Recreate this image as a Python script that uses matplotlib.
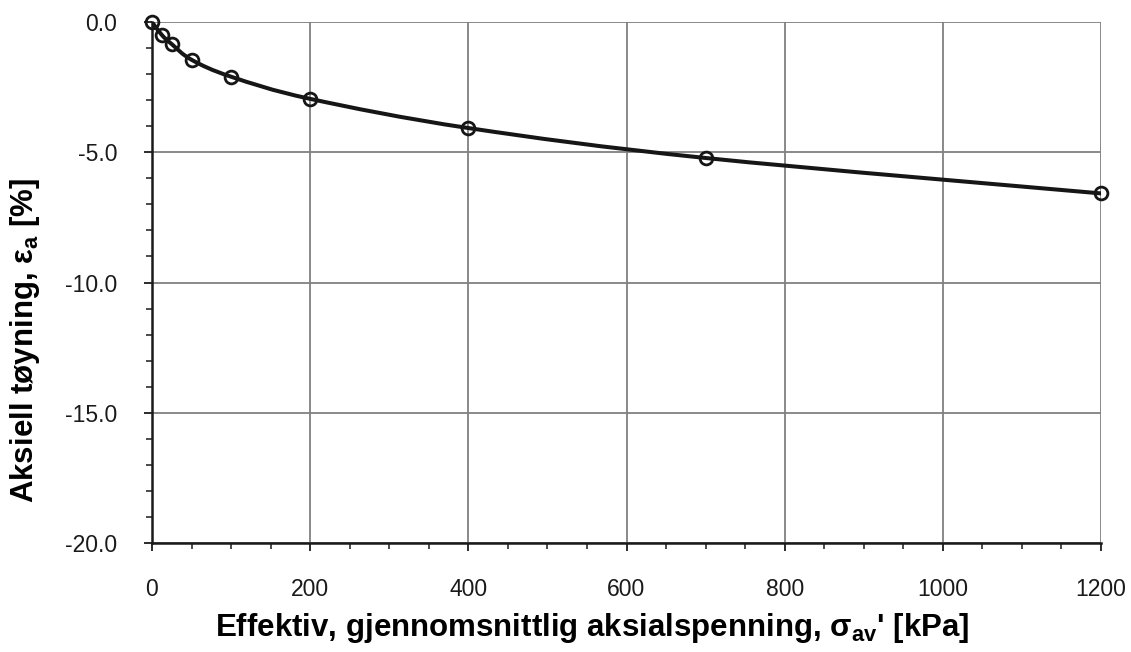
import numpy as np
import matplotlib.pyplot as plt
from matplotlib.path import Path
from matplotlib.patches import PathPatch
from matplotlib.ticker import MultipleLocator, FormatStrFormatter

plt.rcParams['font.family'] = ['Liberation Sans', 'DejaVu Sans']
plt.rcParams['mathtext.fontset'] = 'custom'
plt.rcParams['mathtext.rm'] = 'Liberation Sans'
plt.rcParams['mathtext.bf'] = 'Liberation Sans:bold'

# målte punkter: spenning [kPa] og aksiell tøyning [%]
spenning = [0, 12.5, 25, 50, 100, 200, 400, 700, 1200]
toyning = [0.0, -0.5, -0.85, -1.45, -2.1, -2.95, -4.07, -5.22, -6.58]

x_ticks = [0, 200, 400, 600, 800, 1000, 1200]
y_ticks = [0.0, -5.0, -10.0, -15.0, -20.0]


def glatt_kurve(ax, xs, ys, **kw):
    # glattet linje (bezier gjennom punktene, som i Excel)
    pts = ax.transData.transform(np.column_stack([xs, ys]))
    verts = [pts[0]]
    codes = [Path.MOVETO]
    n = len(pts)
    for i in range(n - 1):
        p0 = pts[i - 1] if i > 0 else pts[i]
        p1 = pts[i]
        p2 = pts[i + 1]
        p3 = pts[i + 2] if i + 2 < n else pts[i + 1]
        c1 = p1 + (p2 - p0) / 6.0
        c2 = p2 - (p3 - p1) / 6.0
        verts += [c1, c2, p2]
        codes += [Path.CURVE4] * 3
    patch = PathPatch(Path(verts, codes), fill=False, transform=None, **kw)
    ax.add_artist(patch)


fig = plt.figure(figsize=(11.31, 6.52), dpi=100)
ax = fig.add_axes([152 / 1131, 1 - 543 / 652, 949 / 1131, 521 / 652])

ax.set_xlim(0, 1200)
ax.set_ylim(-20, 0)
ax.set_xticks(x_ticks)
ax.set_yticks(y_ticks)
ax.xaxis.set_minor_locator(MultipleLocator(50))
ax.yaxis.set_minor_locator(MultipleLocator(1))
ax.yaxis.set_major_formatter(FormatStrFormatter('%.1f'))

ax.grid(True, which='major', color='#808080', linewidth=1.3)
ax.set_axisbelow(True)
for s in ['top', 'right']:
    ax.spines[s].set_visible(False)
for s in ['left', 'bottom']:
    ax.spines[s].set_linewidth(1.8)
    ax.spines[s].set_color('#1a1a1a')
ax.tick_params(which='major', length=6, width=1.3, labelsize=16.5, colors='#1a1a1a')
ax.tick_params(which='minor', length=4, width=1.1, colors='#1a1a1a')
ax.tick_params(axis='x', which='major', pad=19)
ax.tick_params(axis='y', which='major', pad=19)

ax.set_xlabel(r"Effektiv, gjennomsnittlig aksialspenning, $\mathbf{\sigma_{av}}$' [kPa]",
              fontsize=22.5, fontweight='bold')
ax.set_ylabel(r"Aksiell tøyning, $\mathbf{\varepsilon_a}$ [%]",
              fontsize=22.5, fontweight='bold')
ax.xaxis.set_label_coords((592 - 152) / 949, (543 - 611) / 521)
ax.yaxis.set_label_coords((42 - 152) / 949, (543 - 340) / 521)

fig.canvas.draw()
glatt_kurve(ax, spenning, toyning, edgecolor='#161616', linewidth=2.9, zorder=3)
ax.plot(spenning, toyning, linestyle='none', marker='o', markersize=9.2,
        markerfacecolor='none', markeredgecolor='#161616', markeredgewidth=2.0,
        zorder=4, clip_on=False)

fig.savefig('out.png', dpi=100)
